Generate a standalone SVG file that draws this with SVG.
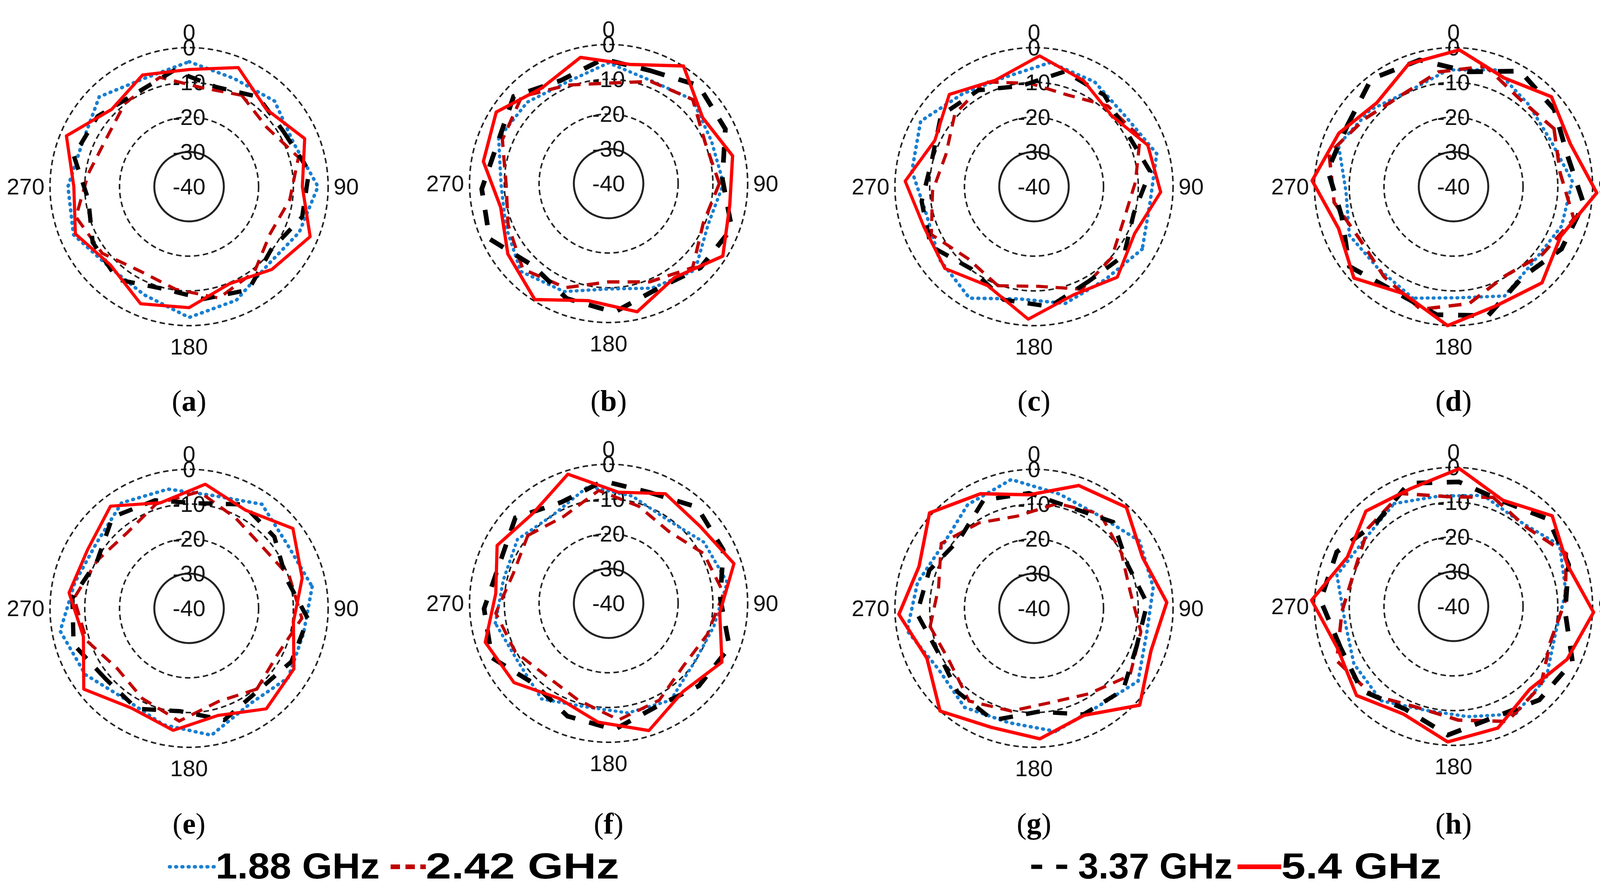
<svg xmlns="http://www.w3.org/2000/svg" xmlns:xlink="http://www.w3.org/1999/xlink" width="4192" height="2282" viewBox="0 0 4192 2282">
<style>
.g{fill:none;stroke:#222;stroke-width:4;stroke-dasharray:14 9}
.s{fill:none;stroke:#222;stroke-width:5}
.t{font-family:"Liberation Sans",Arial,sans-serif;font-size:58px;fill:#111;text-anchor:middle}
.cap{font-family:"Liberation Serif","Times New Roman",serif;font-size:76px;fill:#000;text-anchor:middle}
.lg{font-family:"Liberation Sans",Arial,sans-serif;font-weight:bold;font-size:92px;fill:#000}
.blue{fill:none;stroke:#1a7fd0;stroke-width:9;stroke-dasharray:2 14;stroke-linecap:round}
.dred{fill:none;stroke:#c00000;stroke-width:8;stroke-dasharray:30 20}
.blk{fill:none;stroke:#000;stroke-width:11;stroke-dasharray:36 34}
.red{fill:none;stroke:#ff0000;stroke-width:8;stroke-linejoin:round}
</style>
<defs>
<g id="grid">
<circle class="g" r="356"/><circle class="g" r="267"/><circle class="g" r="178"/><circle class="s" r="89"/>
<text class="t" y="-375">0</text><text class="t" y="-336">0</text><text class="t" y="-247">-10</text><text class="t" y="-158">-20</text><text class="t" y="-69">-30</text><text class="t" y="20">-40</text>
<text class="t" x="-370" y="20" text-anchor="end" style="text-anchor:end">270</text>
<text class="t" x="370" y="20" style="text-anchor:start">90</text>
<text class="t" y="430">180</text>
</g>
<polygon id="A" points="0,-300 126,-305 198,-198 296,-123 290,0 310,128 212,212 103,249 0,310 -124,300 -201,201 -291,121 -295,0 -314,-130 -198,-198 -119,-286"/>
<polygon id="B" points="0,-270 96,-231 205,-205 240,-100 240,0 254,105 209,209 101,245 0,250 -107,259 -212,212 -240,100 -245,0 -249,-103 -205,-205 -98,-236"/>
<polygon id="C" points="0,-320 115,-277 219,-219 268,-111 330,0 282,117 201,201 121,291 0,335 -115,277 -205,205 -296,123 -310,0 -273,-113 -230,-230 -115,-277"/>
<polygon id="D" points="0,-280 119,-286 212,-212 245,-101 305,0 268,111 191,191 115,277 0,285 -100,240 -216,216 -273,113 -275,0 -277,-115 -187,-187 -111,-268"/>
</defs>
<g id="plot-a" transform="translate(484,478)"><use href="#grid"/><use href="#C" class="blue"/><use href="#B" class="dred" transform="rotate(30)"/><use href="#D" class="blk" transform="rotate(60)"/><use href="#A" class="red"/></g>
<g id="plot-b" transform="translate(1558,470)"><use href="#grid"/><use href="#C" class="blue" transform="rotate(45) scale(0.95)"/><use href="#B" class="dred" transform="rotate(90) scale(1.05)"/><use href="#D" class="blk" transform="rotate(20) scale(1.1)"/><use href="#A" class="red" transform="rotate(100) scale(1.05)"/></g>
<g id="plot-c" transform="translate(2647,478)"><use href="#grid"/><use href="#C" class="blue" transform="rotate(120)"/><use href="#B" class="dred" transform="rotate(200)"/><use href="#D" class="blk" transform="rotate(150)"/><use href="#A" class="red" transform="rotate(250)"/></g>
<g id="plot-d" transform="translate(3721,478)"><use href="#grid"/><use href="#C" class="blue" transform="rotate(200) scale(0.95)"/><use href="#B" class="dred" transform="rotate(60) scale(1.1)"/><use href="#D" class="blk" transform="rotate(300) scale(1.12)"/><use href="#A" class="red" transform="rotate(160) scale(1.08)"/></g>
<g id="plot-e" transform="translate(484,1558)"><use href="#grid"/><use href="#C" class="blue" transform="rotate(80)"/><use href="#B" class="dred" transform="rotate(140)"/><use href="#D" class="blk" transform="rotate(230)"/><use href="#A" class="red" transform="rotate(300)"/></g>
<g id="plot-f" transform="translate(1558,1545)"><use href="#grid"/><use href="#C" class="blue" transform="rotate(260) scale(0.92)"/><use href="#B" class="dred" transform="rotate(310)"/><use href="#D" class="blk" transform="rotate(20) scale(1.08)"/><use href="#A" class="red" transform="rotate(50) scale(1.02)"/></g>
<g id="plot-g" transform="translate(2647,1558)"><use href="#grid"/><use href="#C" class="blue" transform="rotate(170)"/><use href="#B" class="dred" transform="rotate(260)"/><use href="#D" class="blk" transform="rotate(110)"/><use href="#A" class="red" transform="rotate(200) scale(1.08)"/></g>
<g id="plot-h" transform="translate(3721,1553)"><use href="#grid"/><use href="#C" class="blue" transform="rotate(330) scale(0.95)"/><use href="#B" class="dred" transform="rotate(20) scale(1.1)"/><use href="#D" class="blk" transform="rotate(250) scale(1.1)"/><use href="#A" class="red" transform="rotate(340) scale(1.07)"/></g>
<g id="captions">
<text class="cap" x="484" y="1052">(<tspan font-weight="bold">a</tspan>)</text>
<text class="cap" x="1558" y="1052">(<tspan font-weight="bold">b</tspan>)</text>
<text class="cap" x="2647" y="1052">(<tspan font-weight="bold">c</tspan>)</text>
<text class="cap" x="3721" y="1052">(<tspan font-weight="bold">d</tspan>)</text>
<text class="cap" x="484" y="2135">(<tspan font-weight="bold">e</tspan>)</text>
<text class="cap" x="1558" y="2135">(<tspan font-weight="bold">f</tspan>)</text>
<text class="cap" x="2647" y="2135">(<tspan font-weight="bold">g</tspan>)</text>
<text class="cap" x="3721" y="2135">(<tspan font-weight="bold">h</tspan>)</text>
</g>
<g id="legend">
<line class="blue" x1="434" y1="2220" x2="548" y2="2220"/><text class="lg" x="552" y="2250" textLength="420" lengthAdjust="spacingAndGlyphs">1.88 GHz</text>
<line class="dred" x1="1000" y1="2220" x2="1090" y2="2220" style="stroke-width:12;stroke-dasharray:24 14"/><text class="lg" x="1090" y="2250" textLength="495" lengthAdjust="spacingAndGlyphs">2.42 GHz</text>
<line class="blk" x1="2640" y1="2220" x2="2760" y2="2220" style="stroke-dasharray:28 36"/><text class="lg" x="2760" y="2250" textLength="395" lengthAdjust="spacingAndGlyphs">3.37 GHz</text>
<line class="red" x1="3168" y1="2220" x2="3280" y2="2220" style="stroke-width:12"/><text class="lg" x="3280" y="2250" textLength="410" lengthAdjust="spacingAndGlyphs">5.4 GHz</text>
</g>
</svg>
